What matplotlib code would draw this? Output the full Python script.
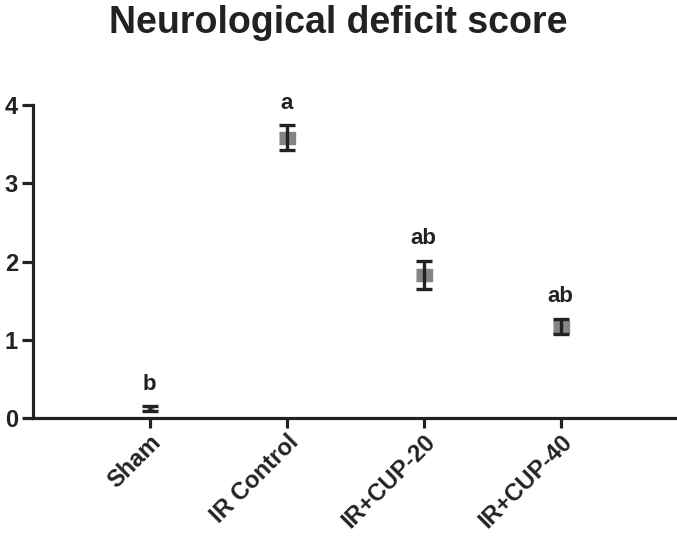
import matplotlib.pyplot as plt
import numpy as np

# data
groups = ['Sham', 'IR Control', 'IR+CUP-20', 'IR+CUP-40']
means = [0.12, 3.58, 1.83, 1.17]
errs = [0.03, 0.16, 0.18, 0.10]
letters = ['b', 'a', 'ab', 'ab']

plt.rcParams['font.family'] = ['Liberation Sans', 'DejaVu Sans']
plt.rcParams['font.weight'] = 'bold'

dark = '#222222'

fig = plt.figure(figsize=(6.77, 5.36), dpi=100)
ax = fig.add_axes([0.049, 0.22, 0.951, 0.584])

x = np.arange(len(groups))
ax.set_xlim(-0.85, 3.85)
ax.set_ylim(0, 4)

# grey box behind each error bar, a bit wider than tall,
# shrunk to the bar span when the bar is very short
px_per_unit = ax.transData.transform((0, 1))[1] - ax.transData.transform((0, 0))[1]
box = [(-1.3, -1), (1.3, -1), (1.3, 1), (-1.3, 1)]
for xi, m, e in zip(x, means, errs):
    h = min(13, 2 * e * px_per_unit)
    ax.plot(xi, m, marker=box, markersize=h * 72 / 100 * 1.3, color='#858585',
            linestyle='none', zorder=2)

ax.errorbar(x, means, yerr=errs, fmt='none', ecolor=dark, elinewidth=2.4,
            capsize=6, capthick=2.4, zorder=3)

for xi, m, e, lab in zip(x, means, errs, letters):
    ax.text(xi, m + e + 0.28, lab, ha='center', va='center',
            fontsize=16, fontweight='bold', color=dark)

ax.set_yticks([0, 1, 2, 3, 4])
ax.set_xticks(x)
ax.set_xticklabels(groups, rotation=45, ha='right', rotation_mode='anchor')

for side in ['top', 'right']:
    ax.spines[side].set_visible(False)
for side in ['left', 'bottom']:
    ax.spines[side].set_linewidth(2.3)
    ax.spines[side].set_color(dark)
ax.spines['left'].set_bounds(0, 4)

ax.tick_params(axis='both', direction='out', width=2.3, color=dark,
               labelcolor=dark)
ax.tick_params(axis='y', length=8, labelsize=17, pad=3)
ax.tick_params(axis='x', length=7, labelsize=17, pad=2)
for lbl in ax.get_xticklabels() + ax.get_yticklabels():
    lbl.set_fontweight('bold')

fig.text(0.5, 0.958, 'Neurological deficit score', ha='center', va='center',
         fontsize=27, fontweight='bold', color=dark)

fig.savefig('out.png', dpi=100)
